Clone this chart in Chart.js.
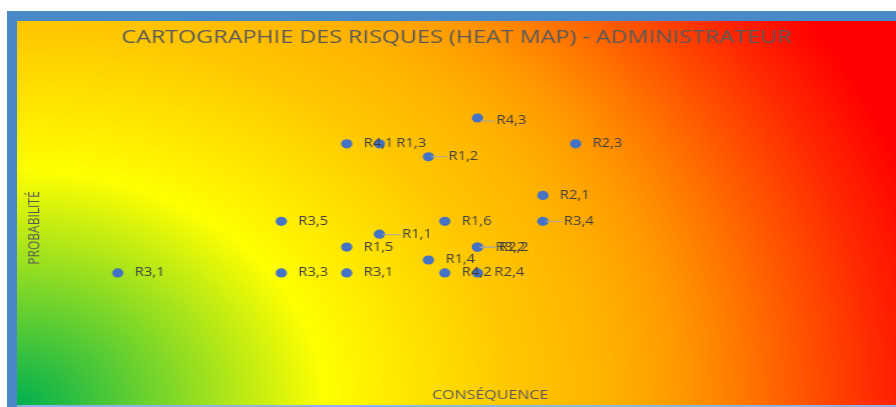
<!DOCTYPE html>
<html><head><meta charset="utf-8">
<script src="https://cdn.jsdelivr.net/npm/chart.js@4.4.1/dist/chart.umd.min.js"></script>
<style>
html,body{margin:0;padding:0;background:#fff;width:896px;height:407px;overflow:hidden;position:relative}
#frame{position:absolute;left:7px;top:11px;width:889px;height:396px;background:#4A89C8}
#bottomline{position:absolute;left:17px;top:405px;width:879px;height:2px;background:#8DB3E2}
#c{position:absolute;left:17px;top:21px;width:879px;height:384px}
</style></head><body>
<div id="frame"></div><div id="bottomline"></div>
<canvas id="c" width="715" height="384" style="width:879px;height:384px"></canvas>
<script>
// ---- data ----
const riskLabels  = ["R3,1","R3,3","R3,5","R3,1","R1,5","R4,1","R1,3","R1,1","R1,2","R1,4","R1,6","R4,2","R4,3","R3,2","R2,2","R2,4","R2,1","R3,4","R2,3"];
const consequence = [2, 12, 12, 16, 16, 16, 18, 18, 21, 21, 22, 22, 24, 24, 24, 24, 28, 28, 30];
const probability = [9, 9, 13, 9, 11, 19, 19, 12, 18, 10, 13, 9, 21, 11, 11, 9, 15, 13, 19];

const chartTitle = 'CARTOGRAPHIE DES RISQUES (HEAT MAP) - ADMINISTRATEUR';
const xTitle = 'CONSÉQUENCE';
const yTitle = 'PROBABILITÉ';

// label placement (layout only): index -> offset from point, with leader line
const defaultNudge = {dx: 13.8, dy: 0, leader: false};
const labelNudge = {
  7:  {dx: 18.5, dy: 0.5, leader: true},
  8:  {dx: 16.3, dy: 0, leader: true},
  12: {dx: 15.5, dy: 3, leader: true},
  13: {dx: 14.6, dy: 0, leader: true},
  14: {dx: 17.4, dy: 0, leader: true},
  17: {dx: 17.1, dy: 0, leader: true}
};

const heatBackground = {
  id: 'heatBackground',
  beforeDraw(chart) {
    const {ctx, width, height} = chart;
    const sx = 250.5, sy = 235;
    ctx.save();
    ctx.translate(0, height);
    ctx.scale(sx, sy);
    const R = 3.3;
    const g = ctx.createRadialGradient(0, 0, 0, 0, 0, R);
    const stops = [[0, '#00B050'], [1.0, '#FFFF00'], [1.6, '#FFC800'], [1.9, '#FFB400'],
                   [2.15, '#FF9A00'], [2.38, '#FF7400'], [2.8, '#FF2800'], [3.05, '#FF0000'], [3.3, '#FF0000']];
    stops.forEach(s => g.addColorStop(s[0] / R, s[1]));
    ctx.fillStyle = g;
    ctx.fillRect(0, -height / sy, width / sx, height / sy);
    ctx.restore();
  }
};

const labelPlugin = {
  id: 'riskLabels',
  afterDatasetsDraw(chart) {
    const meta = chart.getDatasetMeta(0);
    const ctx = chart.ctx;
    ctx.save();
    ctx.font = '12px "Open Sans"';
    ctx.textBaseline = 'middle';
    ctx.textAlign = 'left';
    meta.data.forEach((pt, i) => {
      const n = labelNudge[i] || defaultNudge;
      const tx = pt.x + n.dx, ty = pt.y + n.dy;
      if (n.leader) {
        ctx.strokeStyle = '#A6A6A6';
        ctx.lineWidth = 1;
        ctx.beginPath();
        ctx.moveTo(pt.x + 2, ty);
        ctx.lineTo(tx - 1.5, ty);
        ctx.stroke();
      }
      ctx.fillStyle = '#404040';
      ctx.fillText(riskLabels[i], tx, ty);
    });
    ctx.restore();
  }
};

new Chart(document.getElementById('c'), {
  type: 'scatter',
  data: {
    datasets: [{
      data: consequence.map((x, i) => ({x: x, y: probability[i]})),
      backgroundColor: '#4472C4',
      borderWidth: 0,
      pointRadius: 4.6,
      pointHoverRadius: 4.6
    }]
  },
  options: {
    responsive: false,
    animation: false,
    devicePixelRatio: 1,
    layout: {padding: 0},
    plugins: {
      legend: {display: false},
      tooltip: {enabled: false},
      title: {
        display: true, text: chartTitle, color: '#595959',
        font: {family: '"Open Sans"', size: 19, weight: 'normal'},
        padding: {top: 5, bottom: 22.2}
      }
    },
    scales: {
      x: {
        type: 'linear', min: 0.303, max: 49.25,
        ticks: {display: false}, grid: {display: false, drawTicks: false}, border: {display: false},
        title: {display: true, text: xTitle, color: '#595959', font: {family: '"Open Sans"', size: 13}, padding: {top: 2.2, bottom: 2.2}}
      },
      y: {
        type: 'linear', min: 0.32, max: 24.64,
        ticks: {display: false}, grid: {display: false, drawTicks: false}, border: {display: false},
        title: {display: true, text: yTitle, color: '#595959', font: {family: '"Open Sans"', size: 12}, padding: {top: 7.5, bottom: 37.5}}
      }
    }
  },
  plugins: [heatBackground, labelPlugin]
});
</script>
</body></html>
